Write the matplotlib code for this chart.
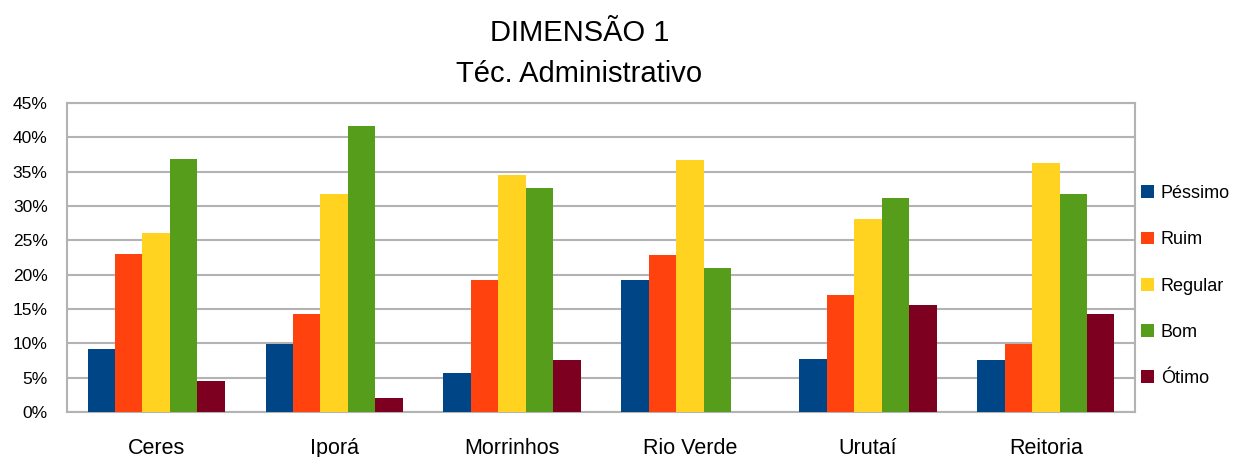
import numpy as np
import matplotlib
matplotlib.use("Agg")
import matplotlib.pyplot as plt
from matplotlib.patches import Patch
from matplotlib.ticker import MultipleLocator, FuncFormatter

plt.rcParams['font.family'] = ['Liberation Sans', 'DejaVu Sans']

# Dados (percentuais)
campi = ["Ceres", "Iporá", "Morrinhos", "Rio Verde", "Urutaí", "Reitoria"]
pessimo = [9.2, 9.9, 5.7, 19.2, 7.7, 7.6]
ruim = [23.0, 14.2, 19.2, 22.8, 17.1, 9.9]
regular = [26.1, 31.8, 34.5, 36.7, 28.1, 36.2]
bom = [36.9, 41.7, 32.6, 21.0, 31.2, 31.8]
otimo = [4.5, 2.1, 7.6, 0.0, 15.6, 14.2]

series = ["Péssimo", "Ruim", "Regular", "Bom", "Ótimo"]
cores = ["#004586", "#ff420e", "#ffd320", "#579d1c", "#7e0021"]
valores = [pessimo, ruim, regular, bom, otimo]

fig = plt.figure(figsize=(12.35, 4.57), dpi=100)
ax = fig.add_axes([0.0543, 0.0985, 0.8647, 0.6761])

x = np.arange(len(campi))
largura = 0.154
for i, (nome, cor, vals) in enumerate(zip(series, cores, valores)):
    ax.bar(x + (i - 2) * largura, vals, largura, color=cor, label=nome, zorder=3)

ax.set_xlim(-0.5, len(campi) - 0.5)
ax.set_ylim(0, 45)
ax.yaxis.set_major_locator(MultipleLocator(5))
ax.yaxis.set_major_formatter(FuncFormatter(lambda v, p: f"{v:.0f}%"))
ax.grid(axis='y', color='#b3b3b3', linewidth=1.5, zorder=0)
ax.set_xticks(x)
ax.set_xticklabels(campi, fontsize=15.5)
ax.tick_params(axis='x', length=0, pad=19)
ax.tick_params(axis='y', length=0, pad=14, labelsize=12.5)
for s in ax.spines.values():
    s.set_color('#b3b3b3')
    s.set_linewidth(1.5)

fig.text(0.469, 1 - 41 / 457, "DIMENSÃO 1", ha='center', va='baseline', fontsize=21)
fig.text(0.469, 1 - 82 / 457, "Téc. Administrativo", ha='center', va='baseline', fontsize=21)

handles = [Patch(facecolor=c, label=n) for n, c in zip(series, cores)]
fig.legend(handles=handles, loc='center left', bbox_to_anchor=(0.918, 0.374),
           frameon=False, fontsize=13, handlelength=0.7, handleheight=0.7,
           handletextpad=0.4, labelspacing=1.62, borderaxespad=0)

fig.savefig("out.png", dpi=100)
